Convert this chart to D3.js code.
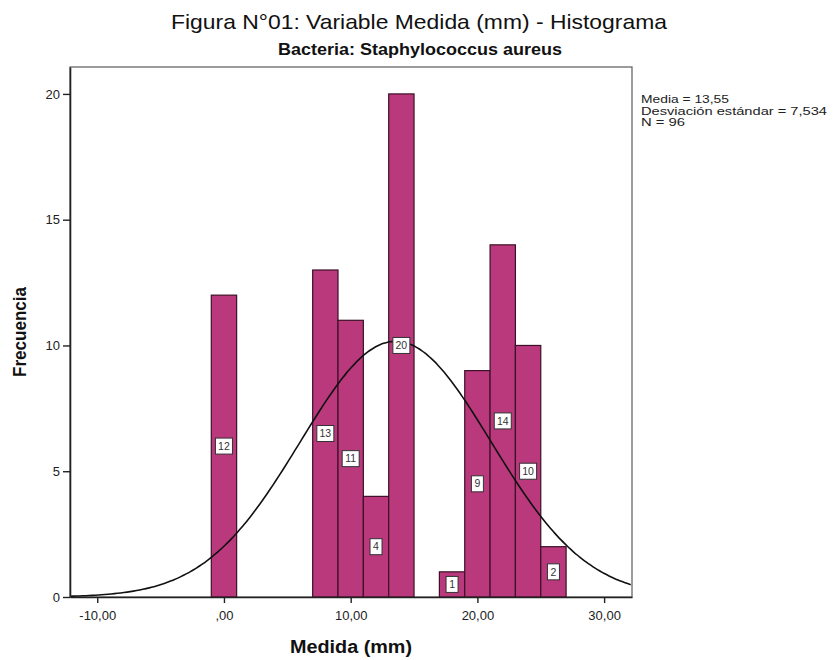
<!DOCTYPE html>
<html>
<head>
<meta charset="utf-8">
<script src="https://cdn.jsdelivr.net/npm/d3@7"></script>
<style>
  body { margin: 0; background: #fff; }
  text { font-family: "Liberation Sans", Arial, sans-serif; }
</style>
</head>
<body>
<div id="chart"></div>
<script>
// histogram bins (lower edge, upper edge) and counts
const binStart = [-1, 7, 9, 11, 13, 17, 19, 21, 23, 25];
const binEnd   = [ 1, 9, 11, 13, 15, 19, 21, 23, 25, 27];
const counts   = [12, 13, 11, 4, 20, 1, 9, 14, 10, 2];

const xTicks = [-10, 0, 10, 20, 30];
const xTickLabels = ["-10,00", ",00", "10,00", "20,00", "30,00"];
const yTicks = [0, 5, 10, 15, 20];

const mean = 13.55, sd = 7.534, n = 96, binWidth = 2;
const statLines = ["Media = 13,55", "Desviación estándar = 7,534", "N = 96"];

const W = 833, H = 660;
const margin = { top: 67, right: 201, bottom: 63, left: 70 };
const width = W - margin.left - margin.right;
const height = H - margin.top - margin.bottom;

const x = d3.scaleLinear().domain([-12.15, 32.2]).range([0, width]);
const y = d3.scaleLinear().domain([0, 21.07]).range([height, 0]);

const svg = d3.select("#chart").append("svg")
    .attr("width", W).attr("height", H);

svg.append("text")
    .attr("x", 419).attr("y", 29)
    .attr("text-anchor", "middle")
    .attr("font-size", 21)
    .attr("textLength", 496).attr("lengthAdjust", "spacingAndGlyphs")
    .attr("fill", "#111")
    .text("Figura N°01: Variable Medida (mm) - Histograma");

svg.append("text")
    .attr("x", 420).attr("y", 55)
    .attr("text-anchor", "middle")
    .attr("font-size", 17)
    .attr("font-weight", "bold")
    .attr("textLength", 284).attr("lengthAdjust", "spacingAndGlyphs")
    .attr("fill", "#111")
    .text("Bacteria: Staphylococcus aureus");

const g = svg.append("g")
    .attr("transform", `translate(${margin.left},${margin.top})`);

// frame
g.append("rect")
    .attr("width", width).attr("height", height)
    .attr("fill", "none").attr("stroke", "#5a5a5a").attr("stroke-width", 1.2);

// bars
const bars = binStart.map((s, i) => ({ s, e: binEnd[i], c: counts[i] }));
g.selectAll("rect.bar").data(bars).join("rect")
    .attr("class", "bar")
    .attr("x", d => x(d.s))
    .attr("y", d => y(d.c))
    .attr("width", d => x(d.e) - x(d.s))
    .attr("height", d => y(0) - y(d.c))
    .attr("fill", "#b9397c")
    .attr("stroke", "#3d1027")
    .attr("stroke-width", 1.2);

// normal curve from the stated mean and sd
const curve = d3.range(-12.15, 32.21, 0.25).map(v => ({
    v, f: n * binWidth * Math.exp(-0.5 * ((v - mean) / sd) ** 2) / (sd * Math.sqrt(2 * Math.PI))
}));
g.append("path")
    .datum(curve)
    .attr("fill", "none")
    .attr("stroke", "#111")
    .attr("stroke-width", 1.6)
    .attr("d", d3.line().x(d => x(d.v)).y(d => y(d.f)).curve(d3.curveBasis));

// count labels
const lab = g.selectAll("g.lab").data(bars).join("g")
    .attr("class", "lab")
    .attr("transform", d => `translate(${x((d.s + d.e) / 2)},${y(d.c / 2)})`);
lab.append("rect")
    .attr("x", d => d.c >= 10 ? -8.5 : -6).attr("y", -8)
    .attr("width", d => d.c >= 10 ? 17 : 12).attr("height", 16)
    .attr("fill", "#fff").attr("stroke", "#333").attr("stroke-width", 1);
lab.append("text")
    .attr("text-anchor", "middle").attr("dy", "0.35em")
    .attr("font-size", 10.5).attr("fill", "#333")
    .text(d => d.c);

// axes
const xAxis = d3.axisBottom(x).tickValues(xTicks)
    .tickFormat((d, i) => xTickLabels[i]).tickSize(6).tickSizeOuter(0);
const yAxis = d3.axisLeft(y).tickValues(yTicks).tickSize(7).tickSizeOuter(0);

const gx = g.append("g").attr("transform", `translate(0,${height})`).call(xAxis);
const gy = g.append("g").call(yAxis);
[gx, gy].forEach(a => {
    a.select(".domain").attr("stroke", "#222").attr("stroke-width", 1.6);
    a.selectAll(".tick line").attr("stroke", "#222").attr("stroke-width", 1.4);
    a.selectAll(".tick text").attr("font-size", 13).attr("fill", "#222")
        .attr("font-family", "'Liberation Sans', Arial, sans-serif");
});
gx.selectAll(".tick text").attr("dy", "1.1em");

svg.append("text")
    .attr("x", margin.left + width / 2).attr("y", 653)
    .attr("text-anchor", "middle")
    .attr("font-size", 18).attr("font-weight", "bold").attr("fill", "#111")
    .attr("textLength", 122).attr("lengthAdjust", "spacingAndGlyphs")
    .text("Medida (mm)");

svg.append("text")
    .attr("transform", `translate(26,${margin.top + height / 2}) rotate(-90)`)
    .attr("text-anchor", "middle")
    .attr("font-size", 18).attr("font-weight", "bold").attr("fill", "#111")
    .attr("textLength", 90).attr("lengthAdjust", "spacingAndGlyphs")
    .text("Frecuencia");

// stats box
const statLen = [88, 186, 44];
svg.append("g").selectAll("text").data(statLines).join("text")
    .attr("x", 641).attr("y", (d, i) => 103 + i * 11.5)
    .attr("font-size", 10.5).attr("fill", "#222")
    .attr("textLength", (d, i) => statLen[i]).attr("lengthAdjust", "spacingAndGlyphs")
    .text(d => d);
</script>
</body>
</html>
